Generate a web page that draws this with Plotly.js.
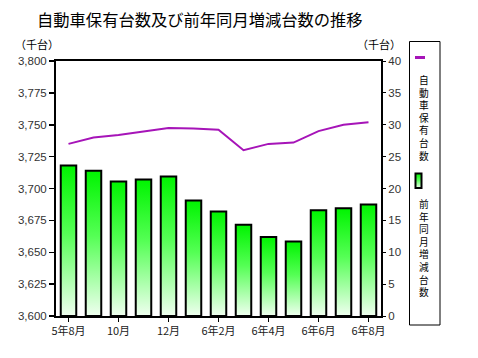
<!DOCTYPE html>
<html>
<head>
<meta charset="utf-8">
<script src="https://cdn.plot.ly/plotly-3.0.1.min.js"></script>
<style>html,body{margin:0;padding:0;background:#fff;}#chart{width:478px;height:358px;}</style>
</head>
<body>
<div id="chart"></div>
<script>
// ---- data ----
const categories = ['5年8月','9月','10月','11月','12月','6年1月','6年2月','3月','6年4月','5月','6年6月','7月','6年8月'];
const holdings = [3735, 3740, 3742, 3745, 3747.5, 3747, 3746, 3730, 3735, 3736, 3745, 3750, 3752];   // 自動車保有台数 (千台)
const yoyChange = [23.6, 22.8, 21.1, 21.4, 21.9, 18.1, 16.4, 14.3, 12.4, 11.7, 16.6, 16.9, 17.5];    // 前年同月増減台数 (千台)
const tickVals = ['5年8月','10月','12月','6年2月','6年4月','6年6月','6年8月'];
const tickText = ['5年8月','10月','12月','6年2月','6年4月','6年6月','6年8月'];
const leftTicks = [3600,3625,3650,3675,3700,3725,3750,3775,3800];
const rightTicks = [0,5,10,15,20,25,30,35,40];
const title = '自動車保有台数及び前年同月増減台数の推移';
const legendNames = ['自動車保有台数','前年同月増減台数'];
const unitLabel = '（千台）';

// ---- geometry helpers (plot area pixels -> paper) ----
const W = 478, H = 358, L = 56, R = 381, T = 61, B = 316;
const px = x => (x - L) / (R - L);
const py = y => (B - y) / (B - T);

const FONT = '"Noto Sans CJK JP", "Liberation Sans", sans-serif';
const NUMFONT = '"Liberation Sans", Arial, sans-serif';

const traces = [
  {
    type: 'bar', x: categories, y: yoyChange, yaxis: 'y', name: legendNames[1],
    width: 0.62,
    marker: {color: '#00ff00', line: {color: '#000', width: 2}},
    hoverinfo: 'none'
  },
  {
    type: 'scatter', mode: 'lines', x: categories, y: holdings, yaxis: 'y2', name: legendNames[0],
    line: {color: '#a614b8', width: 2},
    hoverinfo: 'none'
  }
];

const annotations = [
  {text: unitLabel, xref: 'paper', yref: 'paper', x: px(36.5), y: py(44), xanchor: 'center', yanchor: 'middle', showarrow: false, font: {family: FONT, size: 11, color: '#000'}},
  {text: unitLabel, xref: 'paper', yref: 'paper', x: px(379), y: py(44), xanchor: 'center', yanchor: 'middle', showarrow: false, font: {family: FONT, size: 11, color: '#000'}}
];
// vertical legend text: one character per line
function vtext(str, cx, yTop) {
  annotations.push({text: Array.from(str).join('<br>'), xref: 'paper', yref: 'paper', x: px(cx), y: py(yTop),
    xanchor: 'center', yanchor: 'top', align: 'center', showarrow: false, borderpad: 0,
    font: {family: FONT, size: 9.7, color: '#000'}});
}
vtext(legendNames[0], 423.5, 72);
vtext(legendNames[1], 423.5, 196);

const shapes = [
  {type: 'rect', xref: 'paper', yref: 'paper', x0: px(409.5), x1: px(440), y0: py(41.5), y1: py(325), line: {color: '#000', width: 1}, fillcolor: 'rgba(0,0,0,0)'},
  {type: 'line', xref: 'paper', yref: 'paper', x0: px(415), x1: px(425), y0: py(57.5), y1: py(57.5), line: {color: '#a614b8', width: 3}},
  {type: 'rect', xref: 'paper', yref: 'paper', x0: px(415.5), x1: px(421.5), y0: py(173.5), y1: py(188), line: {color: '#000', width: 2}, fillcolor: '#55ff55'}
];

const layout = {
  width: W, height: H,
  margin: {l: L, r: W - R, t: T, b: H - B, pad: 0},
  paper_bgcolor: '#fff', plot_bgcolor: '#fff',
  showlegend: false,
  title: {text: title, font: {family: FONT, size: 16.3, color: '#000'}, xref: 'container', yref: 'container', x: 37 / W, xanchor: 'left', y: 1 - 20 / H, yanchor: 'middle'},
  xaxis: {
    type: 'category', tickvals: tickVals, ticktext: tickText,
    showline: true, linecolor: '#000', linewidth: 2, mirror: true,
    ticks: 'outside', ticklen: 4, tickwidth: 1, tickcolor: '#000',
    tickfont: {family: FONT, size: 11, color: '#222'}, showgrid: false, zeroline: false
  },
  yaxis: {
    side: 'right', range: [0, 40], tickvals: rightTicks,
    showline: true, linecolor: '#000', linewidth: 2,
    ticks: 'outside', ticklen: 3, tickwidth: 1, tickcolor: '#000',
    tickfont: {family: NUMFONT, size: 11.5, color: '#333'}, showgrid: false, zeroline: false
  },
  yaxis2: {
    overlaying: 'y', side: 'left', range: [3600, 3800], tickvals: leftTicks, tickformat: ',d',
    showline: true, linecolor: '#000', linewidth: 2,
    ticks: 'outside', ticklen: 5, tickwidth: 1.5, tickcolor: '#000',
    tickfont: {family: NUMFONT, size: 11.5, color: '#333'}, showgrid: false, zeroline: false
  },
  separators: '.,',
  annotations: annotations,
  shapes: shapes
};

Plotly.newPlot('chart', traces, layout, {staticPlot: true, displayModeBar: false}).then(gd => {
  const NS = 'http://www.w3.org/2000/svg';
  const svg = gd.querySelector('svg.main-svg');
  let defs = svg.querySelector('defs');
  if (!defs) { defs = document.createElementNS(NS, 'defs'); svg.insertBefore(defs, svg.firstChild); }
  const g = document.createElementNS(NS, 'linearGradient');
  g.setAttribute('id', 'barGrad');
  g.setAttribute('x1', '0'); g.setAttribute('y1', '0'); g.setAttribute('x2', '0'); g.setAttribute('y2', '1');
  [['0%', '#00f400'], ['45%', '#55ff55'], ['100%', '#f0fff0']].forEach(([o, c]) => {
    const s = document.createElementNS(NS, 'stop');
    s.setAttribute('offset', o); s.setAttribute('stop-color', c); g.appendChild(s);
  });
  defs.appendChild(g);
  gd.querySelectorAll('.barlayer .point path').forEach(p => p.style.setProperty('fill', 'url(#barGrad)'));
  const sh = gd.querySelectorAll('.shapelayer path');
  if (sh.length) sh[sh.length - 1].style.setProperty('fill', 'url(#barGrad)');
});
</script>
</body>
</html>
